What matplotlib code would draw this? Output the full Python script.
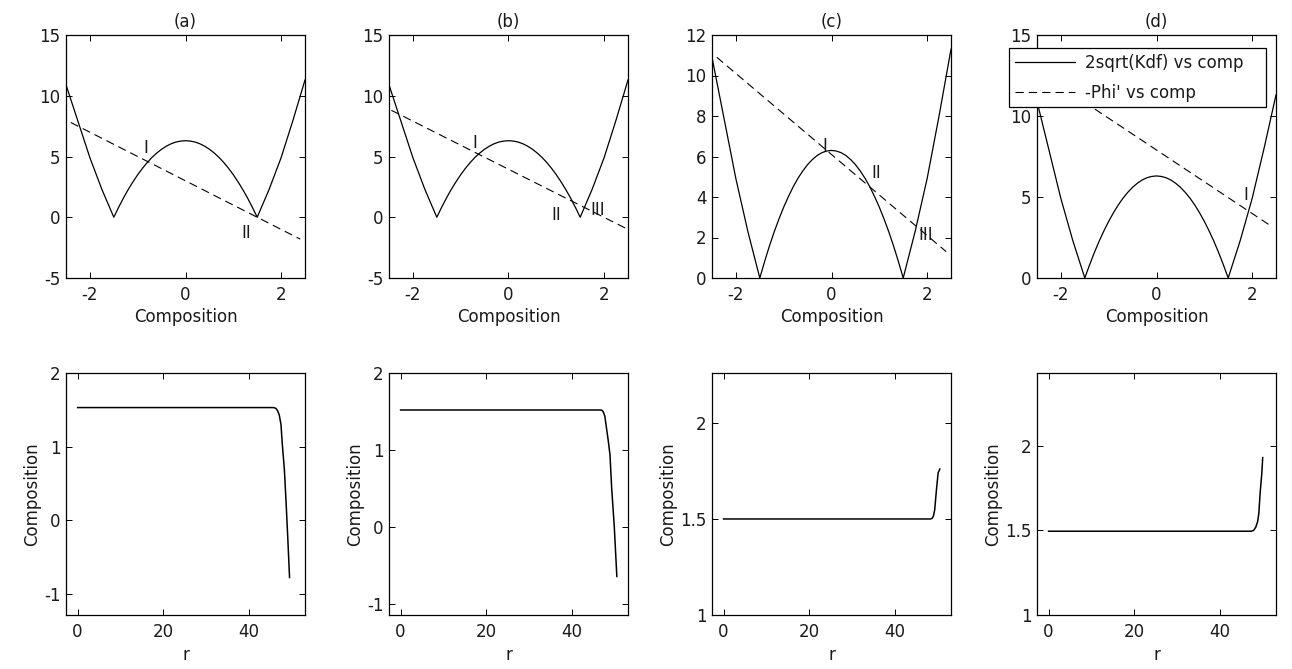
import matplotlib
matplotlib.use("Agg")
import matplotlib.pyplot as plt

# ---- data ----
comp_x = [-2.5, -2.25, -2.0, -1.75, -1.5, -1.4, -1.3, -1.2, -1.1, -1.0, -0.9, -0.8,
          -0.7, -0.6, -0.5, -0.4, -0.3, -0.2, -0.1, 0.0, 0.1, 0.2, 0.3, 0.4, 0.5,
          0.6, 0.7, 0.8, 0.9, 1.0, 1.1, 1.2, 1.3, 1.4, 1.5, 1.75, 2.0, 2.25, 2.5]
kdf_y = [10.9, 7.9, 4.9, 2.3, 0.0, 0.81, 1.57, 2.27, 2.91, 3.5, 4.03, 4.51,
         4.93, 5.29, 5.6, 5.85, 6.05, 6.19, 6.27, 6.3, 6.27, 6.19, 6.05, 5.85, 5.6,
         5.29, 4.93, 4.51, 4.03, 3.5, 2.91, 2.27, 1.57, 0.81, 0.0, 2.3, 4.9, 8.0, 11.3]

phi_x = {"a": [-2.4, 2.4], "b": [-2.45, 2.5], "c": [-2.4, 2.4], "d": [-2.45, 2.4]}
phi_y = {"a": [7.8, -1.8], "b": [8.8, -1.0], "c": [10.9, 1.3], "d": [12.7, 3.2]}

top_ylim = {"a": (-5, 15), "b": (-5, 15), "c": (0, 12), "d": (0, 15)}
top_yticks = {"a": [-5, 0, 5, 10, 15], "b": [-5, 0, 5, 10, 15],
              "c": [0, 2, 4, 6, 8, 10, 12], "d": [0, 5, 10, 15]}
comp_ticks = [-2, 0, 2]

# roman-numeral annotations: (text, x, y)
marks = {
    "a": [("I", -0.83, 5.7), ("II", 1.28, -1.3)],
    "b": [("I", -0.71, 6.1), ("II", 0.99, 0.2), ("III", 1.86, 0.6)],
    "c": [("I", -0.15, 6.5), ("II", 0.93, 5.2), ("III", 1.96, 2.1)],
    "d": [("I", 1.87, 5.1)],
}

r_vals = {
    "a": [0, 45.7, 46.2, 46.6, 47.0, 47.4, 47.7, 48.2, 48.6, 49.0, 49.4],
    "b": [0, 46.8, 47.2, 47.6, 48.0, 48.4, 48.8, 49.2, 49.8, 50.4],
    "c": [0, 48.2, 48.6, 48.9, 49.2, 49.6, 50.0, 50.4],
    "d": [0, 47.2, 47.8, 48.3, 48.7, 49.0, 49.3, 49.7, 49.9],
}
prof_vals = {
    "a": [1.53, 1.53, 1.52, 1.49, 1.43, 1.30, 1.04, 0.68, 0.23, -0.26, -0.78],
    "b": [1.52, 1.52, 1.50, 1.44, 1.28, 1.12, 0.94, 0.50, 0.01, -0.64],
    "c": [1.50, 1.50, 1.503, 1.515, 1.547, 1.65, 1.74, 1.76],
    "d": [1.495, 1.495, 1.50, 1.52, 1.55, 1.60, 1.72, 1.84, 1.93],
}
bot_ylim = {"a": (-1.29, 2), "b": (-1.14, 2), "c": (1, 2.26), "d": (1, 2.43)}
bot_yticks = {"a": [-1, 0, 1, 2], "b": [-1, 0, 1, 2], "c": [1, 1.5, 2], "d": [1, 1.5, 2]}
bot_yticklabels = {"a": ["-1", "0", "1", "2"], "b": ["-1", "0", "1", "2"],
                   "c": ["1", "1.5", "2"], "d": ["1", "1.5", "2"]}
r_ticks = [0, 20, 40]

panels = ["a", "b", "c", "d"]

# ---- figure ----
plt.rcParams["font.family"] = ["DejaVu Sans"]
plt.rcParams["font.size"] = 12
plt.rcParams["axes.unicode_minus"] = False
TXT = "#1a1a1a"

W, H = 1292, 669
fig = plt.figure(figsize=(W / 100, H / 100), dpi=100)

lefts = [66, 389, 712, 1037]
aw = 239

def px_axes(left, top, width, height):
    return fig.add_axes([left / W, 1 - (top + height) / H, width / W, height / H])

def style(ax):
    ax.tick_params(direction="in", top=True, right=True, length=4, width=0.7,
                   colors="black", labelcolor=TXT, labelsize=12)
    ax.tick_params(axis="x", pad=6)
    ax.tick_params(axis="y", pad=4)
    for s in ax.spines.values():
        s.set_linewidth(0.9)
        s.set_color("black")

for i, p in enumerate(panels):
    ax = px_axes(lefts[i], 35, aw, 243)
    l1, = ax.plot(comp_x, kdf_y, color="black", lw=0.9, label="2sqrt(Kdf) vs comp")
    l2, = ax.plot(phi_x[p], phi_y[p], color="black", lw=0.8, dashes=(7.5, 4.5),
                  label="-Phi' vs comp")
    for t, x, y in marks[p]:
        ax.text(x, y, t, color=TXT, fontsize=12, ha="center", va="center")
    ax.set_xlim(-2.5, 2.5)
    ax.set_ylim(*top_ylim[p])
    ax.set_xticks(comp_ticks)
    ax.set_yticks(top_yticks[p])
    ax.set_xlabel("Composition", color=TXT, labelpad=3)
    ax.set_title("(%s)" % p, color=TXT, fontsize=12, pad=6)
    style(ax)
    if p == "d":
        leg = ax.legend(handles=[l1, l2], loc="upper left",
                        bbox_to_anchor=(1009 / W, 1 - 108 / H, 257 / W, 60 / H),
                        bbox_transform=fig.transFigure, mode="expand",
                        frameon=True, fancybox=False, framealpha=1,
                        edgecolor="black", fontsize=12, handlelength=3.6,
                        handletextpad=0.6, labelspacing=0.7, borderpad=0.35,
                        borderaxespad=0)
        leg.get_frame().set_linewidth(0.9)
        for t in leg.get_texts():
            t.set_color(TXT)

    axb = px_axes(lefts[i], 373, aw, 242)
    axb.plot(r_vals[p], prof_vals[p], color="black", lw=1.1)
    axb.set_xlim(-2.7, 53)
    axb.set_ylim(*bot_ylim[p])
    axb.set_xticks(r_ticks)
    axb.set_yticks(bot_yticks[p])
    axb.set_yticklabels(bot_yticklabels[p])
    axb.set_xlabel("r", color=TXT, labelpad=3)
    axb.set_ylabel("Composition", color=TXT, labelpad=2)
    style(axb)

fig.savefig("out.png", dpi=100)
